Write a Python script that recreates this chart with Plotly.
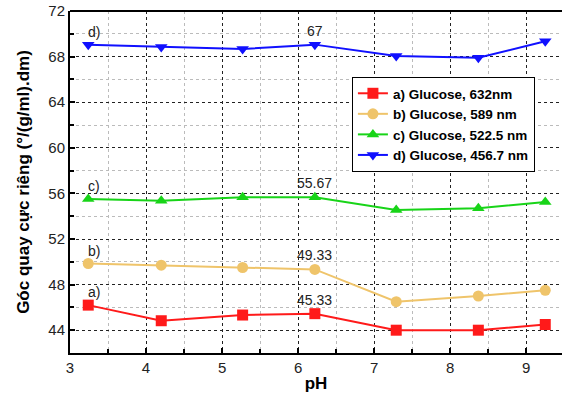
import plotly.graph_objects as go

ph = [3.24, 4.2, 5.27, 6.22, 7.29, 8.37, 9.25]
glucose_632 = [46.2, 44.83, 45.33, 45.45, 44.0, 44.0, 44.5]
glucose_589 = [49.85, 49.7, 49.5, 49.33, 46.5, 47.0, 47.5]
glucose_5225 = [55.5, 55.35, 55.67, 55.67, 54.55, 54.7, 55.25]
glucose_4567 = [69.05, 68.85, 68.67, 69.05, 68.05, 67.9, 69.35]

series_names = ["a) Glucose, 632nm", "b) Glucose, 589 nm",
                "c) Glucose, 522.5 nm", "d) Glucose, 456.7 nm"]
series_values = [glucose_632, glucose_589, glucose_5225, glucose_4567]
colors = ["#ff1a1a", "#efc46a", "#18d418", "#1010ff"]
symbols = ["square", "circle", "triangle-up", "triangle-down"]

side_labels = ["a)", "b)", "c)", "d)"]
value_labels = ["45.33", "49.33", "55.67", "67"]

FONT = "Arial, Liberation Sans"

fig = go.Figure()
for name, vals, c, s in zip(series_names, series_values, colors, symbols):
    fig.add_trace(go.Scatter(
        x=ph, y=vals, mode="lines+markers", name=name,
        line=dict(color=c, width=2),
        marker=dict(color=c, symbol=s, size=11),
    ))

for lab, vals in zip(side_labels, series_values):
    fig.add_annotation(x=ph[0], y=vals[0], text=lab, showarrow=False,
                       xanchor="left", yanchor="bottom", xshift=-2, yshift=3,
                       font=dict(family=FONT, size=14, color="#222"))
for lab, vals in zip(value_labels, series_values):
    fig.add_annotation(x=ph[3], y=vals[3], text=lab, showarrow=False,
                       xanchor="center", yanchor="bottom", yshift=4,
                       font=dict(family=FONT, size=14, color="#222"))

axis_common = dict(
    showline=True, linecolor="black", linewidth=2, mirror=False,
    ticks="inside", ticklen=5, tickwidth=2, tickcolor="black",
    showgrid=True, gridcolor="#222", griddash="dot", gridwidth=1,
    zeroline=False, automargin=False,
    tickfont=dict(family=FONT, size=15, color="#222"),
)

fig.update_xaxes(
    range=[3, 9.47], tick0=3, dtick=1,
    minor=dict(dtick=0.5, ticks="inside", ticklen=4, tickcolor="black",
               showgrid=True, gridcolor="#bbb", griddash="dot", gridwidth=1),
    title=dict(text="<b>pH</b>", font=dict(family=FONT, size=17, color="black"), standoff=2),
    **axis_common,
)
fig.update_yaxes(
    range=[42, 72], tick0=44, dtick=4,
    minor=dict(dtick=2, ticks="inside", ticklen=4, tickcolor="black",
               showgrid=True, gridcolor="#bbb", griddash="dot", gridwidth=1),
    title=dict(text="<b>Góc quay cực riêng (°/(g/ml).dm)</b>",
               font=dict(family=FONT, size=17, color="black"), standoff=14),
    **axis_common,
)

# top frame line
fig.add_shape(type="line", xref="paper", yref="paper", x0=0, x1=1, y0=1, y1=1,
              line=dict(color="black", width=2))

fig.update_layout(
    width=562, height=399,
    margin=dict(l=70, r=0, t=11, b=46),
    plot_bgcolor="white", paper_bgcolor="white",
    showlegend=True,
    legend=dict(x=0.573, y=0.807, xanchor="left", yanchor="top",
                bgcolor="white", bordercolor="black", borderwidth=1,
                font=dict(family=FONT, size=13.5, color="black", weight="bold"),
                itemwidth=30, tracegroupgap=0),
)

fig.write_html("out.html", config={"displayModeBar": False},
               post_script="document.body.style.margin='0';document.body.style.overflow='hidden';")
